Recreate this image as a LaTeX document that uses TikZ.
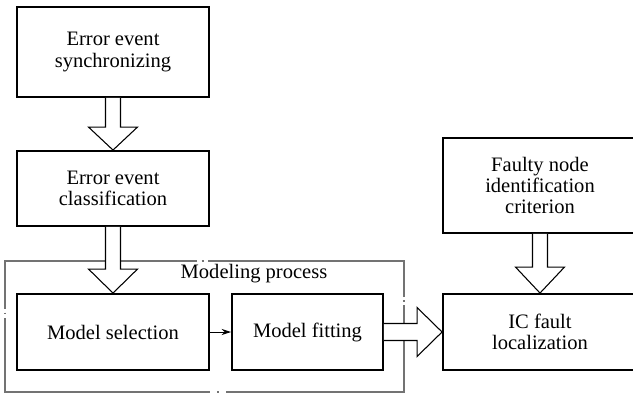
\documentclass[tikz,border=0pt]{standalone}
\usepackage{fontspec}
\setmainfont{Liberation Serif}
\usetikzlibrary{calc,arrows.meta}

\tikzset{
  procbox/.style 2 args={draw=black, line width=1.4pt, fill=white, rectangle, align=center,
    inner sep=0pt, minimum width={#1*0.75pt}, minimum height={#2*0.75pt},
    font=\fontsize{15.4}{15.8}\selectfont},
  blk/.style={draw=black, line width=0.8pt, fill=white, line join=miter},
  framepart/.style={draw=black!55, line width=0.8pt},
  smallarrow/.style={draw=black, line width=0.7pt, -{Stealth[length=7pt,width=4.5pt]}},
  framelabel/.style={font=\fontsize{15.4}{15.8}\selectfont, inner sep=0pt}
}

% hollow block arrow pointing down: #1 start anchor, #2 tip anchor, #3 head length
\newcommand\downblock[3]{%
  \draw[blk] ($(#1)+(-7.5,0)$) -- ($(#2)+(-7.5,-#3)$) -- ($(#2)+(-24.5,-#3)$) -- (#2)
    -- ($(#2)+(24.5,-#3)$) -- ($(#2)+(7.5,-#3)$) -- ($(#1)+(7.5,0)$);}

\begin{document}
\begin{tikzpicture}[x=0.75pt,y=-0.75pt]
  \useasboundingbox (0,0) rectangle (633,394);
  \clip (0,0) rectangle (633,394);

  % modelling frame, a long-dash-dot outline
  \draw[framepart] (197,261) -- (5,261) -- (5,309);
  \draw[framepart] (5,312.5) -- (5,314);
  \draw[framepart] (5,318) -- (5,392) -- (210,392);
  \draw[framepart] (217,392) -- (219,392);
  \draw[framepart] (226,392) -- (404,392) -- (404,305);
  \draw[framepart] (404,300) -- (404,302);
  \draw[framepart] (404,297) -- (404,261) -- (208,261);
  \draw[framepart] (201.5,261) -- (203.5,261);
  \node[framelabel] (mp) at (254,274) {Modeling process};

  % process boxes
  \node[procbox={192}{90}] (sync) at (113,52) {Error event\\synchronizing};
  \node[procbox={192}{75}] (cls) at (113,188.5) {Error event\\classification};
  \node[procbox={192}{76}] (sel) at (113,332) {Model selection};
  \node[procbox={151}{76}] (fit) at (307.5,332) {Model fitting};
  \node[procbox={194}{95}] (crit) at (540,185.5) {Faulty node\\identification\\criterion};
  \node[procbox={194}{76}] (loc) at (540,332) {IC fault\\localization};

  % connectors
  \downblock{sync.south}{cls.north}{23}
  \downblock{cls.south}{sel.north}{24}
  \downblock{crit.south}{loc.north}{26}
  \draw[smallarrow] (sel.east) -- (fit.west);
  \draw[blk] ($(fit.east)+(0,-8.5)$) -- ($(loc.west)+(-25,-8.5)$) -- ($(loc.west)+(-25,-24.5)$)
    -- (loc.west) -- ($(loc.west)+(-25,24.5)$) -- ($(loc.west)+(-25,8.5)$) -- ($(fit.east)+(0,8.5)$);
\end{tikzpicture}
\end{document}
